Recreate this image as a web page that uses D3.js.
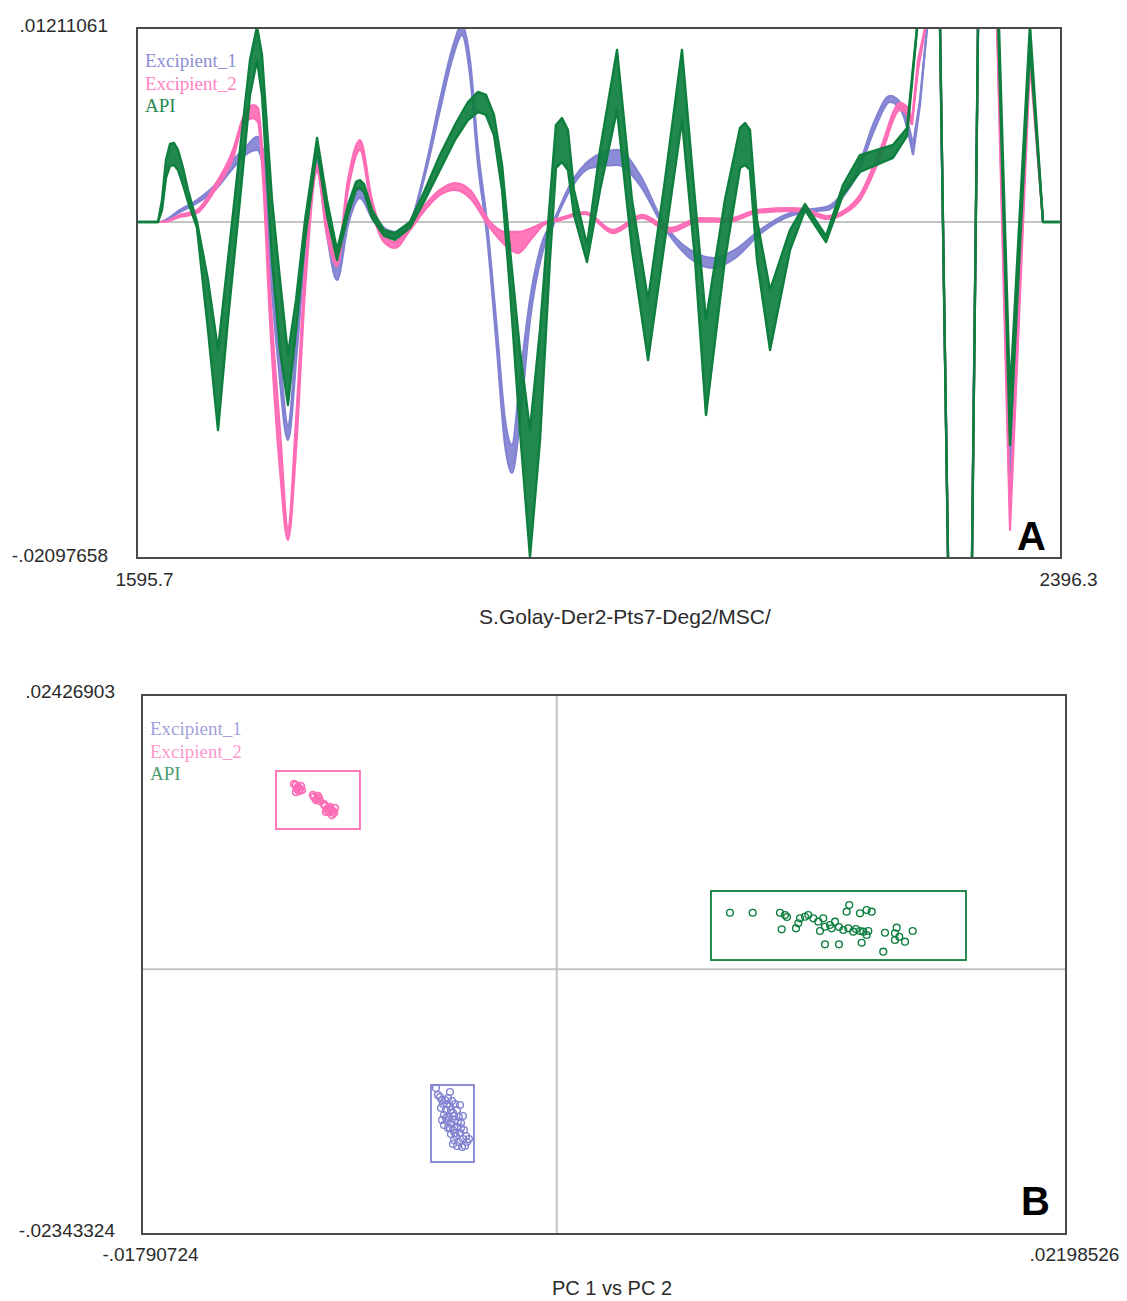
<!DOCTYPE html>
<html>
<head>
<meta charset="utf-8">
<script src="https://cdn.jsdelivr.net/npm/d3@7"></script>
<style>
  body { margin: 0; background: #fff; }
  svg { display: block; }
</style>
</head>
<body>
<svg id="chart" width="1127" height="1301"></svg>
<script>
// ---------- Spectra (second derivative, values in units of 1e-3) ----------
// Each class: wavelength grid (nm), upper and lower envelope of the replicate spectra.
const exc1Nm = [1595.7,1615.6,1632.9,1647.7,1663.3,1678.9,1689.3,1699.7,1704.9,1709.2,1717.9,1726.5,1734.3,1742.1,1751.7,1760.3,1769.0,1778.5,1788.9,1799.3,1809.7,1819.2,1832.2,1845.2,1858.2,1868.6,1877.3,1884.2,1891.2,1898.9,1907.6,1914.6,1920.6,1927.5,1936.2,1947.5,1956.1,1970.9,1988.2,2011.6,2031.5,2051.5,2074.8,2094.8,2113.8,2135.5,2157.2,2174.5,2193.6,2209.2,2219.6,2235.2,2248.1,2258.5,2268.1,2274.1,2280.2,2288.9,2310.3,2329.4,2352.1,2369.4,2380.7,2396.3];
const exc1Hi = [0,0,0.75,1.37,2.31,3.87,4.62,5.31,4.50,0.12,-6.74,-12.67,-6.74,-0.50,3.87,0.12,-2.68,0.44,2.00,0.75,-0.37,-0.62,0,3.25,7.62,10.74,12.3,10.11,4.50,0,-6.74,-12.36,-13.92,-9.86,-4.87,-1.12,0,2.31,3.87,4.50,2.93,0,-1.75,-2.25,-1.75,-0.50,0.44,0.75,0.94,2.00,3.25,6.37,7.87,7.30,4.81,7.62,12.11,24.47,-77.66,44.08,-15.48,11.49,0,0];
const exc1Lo = [0,0,0.62,1.19,2.00,3.37,4.18,4.50,3.56,-1.12,-8.62,-13.61,-7.99,-1.12,3.25,-0.81,-3.62,-0.19,1.50,0.25,-0.75,-1.00,-0.12,2.93,6.99,10.11,11.67,9.18,3.56,-0.81,-7.99,-13.92,-15.67,-12.36,-6.12,-1.75,-0.25,2.00,3.37,3.56,2.31,-0.25,-2.25,-2.87,-2.25,-0.75,0.25,0.62,0.75,1.75,2.93,5.87,7.49,6.87,4.18,7.30,12.11,24.47,-77.66,44.08,-17.04,10.74,0,0];

const exc2Nm = [1595.7,1618.2,1632.9,1647.7,1663.3,1678.9,1687.5,1696.2,1700.5,1704.9,1710.9,1719.6,1726.5,1733.5,1741.3,1751.7,1760.3,1769.0,1778.5,1788.9,1799.3,1809.7,1819.2,1832.2,1845.2,1858.2,1871.2,1884.2,1901.6,1914.6,1925.8,1937.9,1949.2,1962.2,1983.9,2008.1,2033.3,2057.5,2083.5,2106.9,2132.9,2161.5,2174.5,2193.6,2209.2,2222.1,2239.5,2256.8,2262.9,2267.2,2272.4,2278.5,2288.9,2310.3,2329.4,2352.1,2369.4,2380.7,2396.3];
const exc2Hi = [0,0,0.44,0.75,2.31,4.50,6.49,7.30,7.12,3.87,-4.25,-12.99,-19.10,-12.36,-3.00,3.56,-0.19,-2.25,2.62,5.12,1.37,-0.81,-1.25,-0.19,1.06,2.00,2.43,2.00,0,-0.62,-0.62,-0.37,0,0.25,0.62,-0.50,0.44,-0.37,0.25,0.19,0.75,0.87,0.81,0.37,0.75,1.69,4.50,7.43,7.18,6.37,10.11,12.11,24.47,-77.66,44.08,-17.98,10.74,0,0];
const exc2Lo = [0,0,0.31,0.56,2.00,4.00,6.06,6.49,6.24,2.62,-6.12,-15.48,-19.85,-14.23,-4.25,3.12,-0.81,-2.75,2.00,4.50,0.75,-1.25,-1.62,-0.50,0.75,1.69,2.00,1.50,-0.37,-1.44,-1.94,-1.00,-0.12,0.12,0.50,-0.69,0.25,-0.62,0.06,0,0.56,0.69,0.62,0.19,0.56,1.37,4.00,6.99,6.68,6.06,9.49,11.99,24.47,-77.66,44.08,-19.23,9.99,0,0];

const apiNm = [1595.7,1613.9,1617.4,1620.8,1624.3,1627.8,1631.2,1635.6,1639.9,1644.2,1647.7,1657.2,1665.9,1674.5,1684.9,1693.6,1699.7,1704.0,1712.7,1719.6,1726.5,1733.5,1741.3,1751.7,1760.3,1769.0,1778.5,1785.5,1788.9,1792.4,1799.3,1809.7,1819.2,1832.2,1845.2,1858.2,1871.2,1882.5,1891.2,1898.1,1905.0,1912.0,1918.9,1927.5,1936.2,1944.9,1953.5,1958.7,1963.9,1969.1,1974.3,1985.6,1996.9,2011.6,2024.6,2038.5,2053.2,2067.9,2079.2,2088.7,2105.1,2118.2,2122.5,2126.8,2132.9,2144.2,2161.5,2174.5,2192.7,2207.4,2222.1,2250.7,2262.9,2271.5,2288.9,2310.3,2329.4,2352.1,2369.4,2380.7,2396.3];
const apiHi = [0,0,1.37,3.87,4.87,4.93,4.50,3.37,2.00,0.87,0,-3.62,-7.99,-2.37,4.50,10.11,12.2,10.43,1.37,-3.62,-8.30,-4.87,0.12,5.24,1.37,-1.75,1.06,2.50,2.62,2.37,0.75,-0.50,-0.69,0,2.00,4.18,6.06,7.49,8.12,7.93,6.68,3.56,-1.75,-7.99,-12.99,-6.74,1.37,6.06,6.49,5.74,2.00,-1.44,4.50,10.74,1.37,-4.87,2.62,10.74,1.37,-6.12,1.37,5.87,6.18,5.74,0.12,-4.25,-0.50,1.12,-0.87,2.31,4.18,4.81,5.87,12.11,24.47,-77.66,44.08,-10.80,12.3,0,0];
const apiLo = [0,0,0.75,2.75,3.50,3.56,3.25,2.31,1.25,0.37,-0.37,-6.74,-12.99,-6.12,1.37,7.93,10.11,7.93,-2.37,-7.99,-11.42,-6.74,-1.12,4.50,0.44,-2.37,0.44,2.00,2.12,1.87,0.25,-0.87,-1.12,-0.37,1.37,3.25,5.12,6.37,6.87,6.68,5.43,2.00,-4.25,-12.99,-20.91,-13.61,-2.37,3.37,3.75,3.25,0.44,-2.50,2.00,6.99,-1.75,-8.62,-1.12,6.37,-2.37,-12.05,-2.37,3.37,3.56,3.25,-2.37,-7.99,-1.75,0.75,-1.25,1.69,3.12,4.00,5.37,11.99,24.47,-77.66,44.08,-13.92,10.86,0,0];

const specXLabels = ["1595.7", "2396.3"];
const specYLabels = ["-.02097658", ".01211061"];
const specXRange = [1595.7, 2396.3];
const specYRange = [-0.02097658, 0.01211061];

// ---------- PCA scores ----------
const exc1Pc1 = [-0.005215,-0.005043,-0.004827,-0.004913,-0.004697,-0.004525,-0.004999,-0.004784,-0.004611,-0.004395,-0.004870,-0.004654,-0.004481,-0.004309,-0.004741,-0.004568,-0.004395,-0.004222,-0.004697,-0.004481,-0.004309,-0.004136,-0.004568,-0.004352,-0.004179,-0.004007,-0.004438,-0.004222,-0.004050,-0.003920,-0.004309,-0.004093,-0.004870,-0.004179,-0.004611,-0.003877,-0.004956,-0.004050,-0.005129,-0.004956,-0.004741,-0.004568,-0.004438,-0.004266,-0.004784,-0.004611,-0.004395,-0.004136,-0.003963,-0.004481,-0.003791];
const exc1Pc2 = [-0.010514,-0.011310,-0.011576,-0.011930,-0.011399,-0.011664,-0.012284,-0.012461,-0.012107,-0.011930,-0.012903,-0.013080,-0.012727,-0.012461,-0.013434,-0.013700,-0.013346,-0.013080,-0.014054,-0.014231,-0.013965,-0.013611,-0.014585,-0.014762,-0.014496,-0.014231,-0.015116,-0.015293,-0.015027,-0.014762,-0.015647,-0.015735,-0.013788,-0.012018,-0.010868,-0.015293,-0.013346,-0.012992,-0.011133,-0.011576,-0.011930,-0.012461,-0.012992,-0.013523,-0.013169,-0.014054,-0.014496,-0.014054,-0.015647,-0.015470,-0.015027];

const exc2Pc1 = [-0.011260,-0.011174,-0.011087,-0.011217,-0.011044,-0.011131,-0.010483,-0.010353,-0.010267,-0.010396,-0.010008,-0.009878,-0.009749,-0.009835,-0.009662,-0.009921,-0.009792,-0.011346,-0.011001,-0.011260,-0.010526,-0.010224,-0.010310,-0.010051,-0.009619,-0.009705,-0.009965,-0.009576];
const exc2Pc2 = [0.016302,0.016125,0.015948,0.015948,0.016213,0.015771,0.015240,0.015063,0.015152,0.014975,0.014443,0.014266,0.014089,0.013912,0.014001,0.014089,0.014355,0.016390,0.015859,0.015682,0.015417,0.014886,0.015328,0.014620,0.013824,0.013647,0.013912,0.014266];

const apiPc1 = [0.007478,0.008458,0.009636,0.009852,0.009710,0.010327,0.010427,0.010500,0.010716,0.010858,0.011074,0.011290,0.011506,0.011579,0.011795,0.012011,0.011868,0.012369,0.012516,0.012628,0.012585,0.012801,0.013090,0.013090,0.013380,0.013596,0.013233,0.013449,0.013380,0.013164,0.011579,0.012184,0.014170,0.014675,0.014602,0.014787,0.014602,0.015033,0.015366,0.014096,0.009939,0.012918,0.012184,0.011363];
const apiPc2 = [0.005000,0.005000,0.005000,0.004797,0.003531,0.003620,0.004062,0.004505,0.004646,0.004797,0.004505,0.004204,0.004505,0.003761,0.003912,0.004204,0.003620,0.003469,0.005089,0.005682,0.003620,0.003319,0.004947,0.003381,0.005239,0.005089,0.003319,0.003381,0.003027,0.002345,0.002204,0.002204,0.003230,0.003673,0.003177,0.002876,0.002584,0.002434,0.003381,0.001549,0.004620,0.003558,0.003735,0.003381];

// Class limits in score space: [pc1 min, pc1 max, pc2 min, pc2 max]
const exc1Limits = [-0.005431, -0.003575, -0.017063, -0.010248];
const exc2Limits = [-0.012123, -0.008497, 0.012408, 0.017541];
const apiLimits  = [0.006657, 0.017667, 0.000814, 0.006921];

const pcXLabels = ["-.01790724", ".02198526"];
const pcYLabels = ["-.02343324", ".02426903"];
const pcXRange = [-0.01790724, 0.02198526];
const pcYRange = [-0.02343324, 0.02426903];

const classNames = ["Excipient_1", "Excipient_2", "API"];
const classColors = ["#8282d2", "#ff6cb6", "#0e7f3e"];
const legendColors = ["#8e8ed4", "#ff84c2", "#2a8a50"];

// ---------- drawing ----------
const svg = d3.select("#chart");
const UNIT = 1e-3;
const frameColor = "#4a4a4a";
const zeroColor = "#c4c4c4";
const textColor = "#2b2b2b";
const sans = "'Liberation Sans', Arial, sans-serif";
const serif = "'Liberation Serif', 'Times New Roman', serif";

// Panel A: spectra
const A = { left: 137, right: 1061, top: 28, bottom: 558 };
const xA = d3.scaleLinear().domain(specXRange).range([A.left, A.right]);
const yA = d3.scaleLinear().domain(specYRange).range([A.bottom, A.top]);

svg.append("defs").append("clipPath").attr("id", "clipA")
  .append("rect").attr("x", A.left).attr("y", A.top)
  .attr("width", A.right - A.left).attr("height", A.bottom - A.top);

const gA = svg.append("g");
gA.append("line")
  .attr("x1", A.left).attr("x2", A.right)
  .attr("y1", yA(0)).attr("y2", yA(0))
  .attr("stroke", zeroColor).attr("stroke-width", 2);

// Excipient spectra are smooth up to the water region, then straight segments.
const spectra = [
  { nm: exc1Nm, hi: exc1Hi, lo: exc1Lo, color: classColors[0], smoothTo: 2268.1, width: 2.2 },
  { nm: exc2Nm, hi: exc2Hi, lo: exc2Lo, color: classColors[1], smoothTo: 2267.2, width: 2.2 },
  { nm: apiNm,  hi: apiHi,  lo: apiLo,  color: classColors[2], smoothTo: null,   width: 2.4 }
];

const plotA = gA.append("g").attr("clip-path", "url(#clipA)");

function drawBand(pts, curve, s) {
  const area = d3.area().curve(curve)
    .x(d => xA(d.nm)).y0(d => yA(d.lo * UNIT)).y1(d => yA(d.hi * UNIT));
  const hiLine = d3.line().curve(curve).x(d => xA(d.nm)).y(d => yA(d.hi * UNIT));
  const loLine = d3.line().curve(curve).x(d => xA(d.nm)).y(d => yA(d.lo * UNIT));
  plotA.append("path").datum(pts).attr("d", area)
    .attr("fill", s.color).attr("fill-opacity", 0.92);
  [hiLine, loLine].forEach(gen => {
    plotA.append("path").datum(pts).attr("d", gen)
      .attr("fill", "none").attr("stroke", s.color)
      .attr("stroke-width", s.width).attr("stroke-linejoin", "round");
  });
}

spectra.forEach(s => {
  const pts = s.nm.map((nm, i) => ({ nm, hi: s.hi[i], lo: s.lo[i] }));
  if (s.smoothTo === null) {
    drawBand(pts, d3.curveLinear, s);
  } else {
    drawBand(pts.filter(d => d.nm <= s.smoothTo), d3.curveMonotoneX, s);
    drawBand(pts.filter(d => d.nm >= s.smoothTo), d3.curveLinear, s);
  }
});

gA.append("rect")
  .attr("x", A.left).attr("y", A.top)
  .attr("width", A.right - A.left).attr("height", A.bottom - A.top)
  .attr("fill", "none").attr("stroke", frameColor).attr("stroke-width", 2);

function styleAxis(g, dx, dy) {
  g.select(".domain").remove();
  g.selectAll("text")
    .attr("fill", textColor)
    .attr("font-family", sans)
    .attr("font-size", 19)
    .attr("dx", dx).attr("dy", dy);
}

gA.append("g")
  .attr("transform", `translate(${A.left},0)`)
  .call(d3.axisLeft(yA).tickValues(specYRange).tickSize(0).tickPadding(29)
    .tickFormat((d, i) => specYLabels[i]))
  .call(g => styleAxis(g, 0, "0.18em"));

gA.append("g")
  .attr("transform", `translate(0,${A.bottom})`)
  .call(d3.axisBottom(xA).tickValues(specXRange).tickSize(0).tickPadding(15)
    .tickFormat((d, i) => specXLabels[i]))
  .call(g => styleAxis(g, 7, "0.71em"));

gA.append("text")
  .attr("x", 625).attr("y", 624).attr("text-anchor", "middle")
  .attr("font-family", sans).attr("font-size", 21)
  .attr("fill", textColor).text("S.Golay-Der2-Pts7-Deg2/MSC/");

gA.append("text")
  .attr("x", 1046).attr("y", 550).attr("text-anchor", "end")
  .attr("font-family", sans).attr("font-size", 40)
  .attr("font-weight", "bold").attr("fill", "#000").text("A");

const legA = gA.append("g");
classNames.forEach((name, i) => {
  legA.append("text")
    .attr("x", 145).attr("y", 67 + i * 22.5)
    .attr("font-family", serif).attr("font-size", 19)
    .attr("fill", legendColors[i]).text(name);
});

// Panel B: PCA scores
const B = { left: 142, right: 1066, top: 695, bottom: 1234 };
const xB = d3.scaleLinear().domain(pcXRange).range([B.left, B.right]);
const yB = d3.scaleLinear().domain(pcYRange).range([B.bottom, B.top]);

const gB = svg.append("g");
gB.append("line")
  .attr("x1", B.left).attr("x2", B.right).attr("y1", yB(0)).attr("y2", yB(0))
  .attr("stroke", zeroColor).attr("stroke-width", 2);
gB.append("line")
  .attr("x1", xB(0)).attr("x2", xB(0)).attr("y1", B.top).attr("y2", B.bottom)
  .attr("stroke", zeroColor).attr("stroke-width", 2);

const scoreSets = [
  { pc1: exc1Pc1, pc2: exc1Pc2, lim: exc1Limits, color: classColors[0], sw: 1.4 },
  { pc1: exc2Pc1, pc2: exc2Pc2, lim: exc2Limits, color: classColors[1], sw: 1.7 },
  { pc1: apiPc1,  pc2: apiPc2,  lim: apiLimits,  color: classColors[2], sw: 1.4 }
];

scoreSets.forEach(s => {
  gB.append("rect")
    .attr("x", xB(s.lim[0])).attr("y", yB(s.lim[3]))
    .attr("width", xB(s.lim[1]) - xB(s.lim[0]))
    .attr("height", yB(s.lim[2]) - yB(s.lim[3]))
    .attr("fill", "none").attr("stroke", s.color).attr("stroke-width", 1.8);
  gB.append("g").selectAll("circle")
    .data(s.pc1.map((v, i) => [v, s.pc2[i]]))
    .join("circle")
    .attr("cx", d => xB(d[0])).attr("cy", d => yB(d[1])).attr("r", 3.4)
    .attr("fill", "none").attr("stroke", s.color).attr("stroke-width", s.sw);
});

gB.append("rect")
  .attr("x", B.left).attr("y", B.top)
  .attr("width", B.right - B.left).attr("height", B.bottom - B.top)
  .attr("fill", "none").attr("stroke", frameColor).attr("stroke-width", 2);

gB.append("g")
  .attr("transform", `translate(${B.left},0)`)
  .call(d3.axisLeft(yB).tickValues(pcYRange).tickSize(0).tickPadding(27)
    .tickFormat((d, i) => pcYLabels[i]))
  .call(g => styleAxis(g, 0, "0.12em"));

gB.append("g")
  .attr("transform", `translate(0,${B.bottom})`)
  .call(d3.axisBottom(xB).tickValues(pcXRange).tickSize(0).tickPadding(14)
    .tickFormat((d, i) => pcXLabels[i]))
  .call(g => styleAxis(g, 8, "0.71em"));

gB.append("text")
  .attr("x", 612).attr("y", 1295).attr("text-anchor", "middle")
  .attr("font-family", sans).attr("font-size", 20)
  .attr("fill", textColor).text("PC 1 vs PC 2");

gB.append("text")
  .attr("x", 1050).attr("y", 1215).attr("text-anchor", "end")
  .attr("font-family", sans).attr("font-size", 40)
  .attr("font-weight", "bold").attr("fill", "#000").text("B");

const legB = gB.append("g");
classNames.forEach((name, i) => {
  legB.append("text")
    .attr("x", 150).attr("y", 735 + i * 22.5)
    .attr("font-family", serif).attr("font-size", 19)
    .attr("fill", legendColors[i]).attr("fill-opacity", 0.85).text(name);
});
</script>
</body>
</html>
